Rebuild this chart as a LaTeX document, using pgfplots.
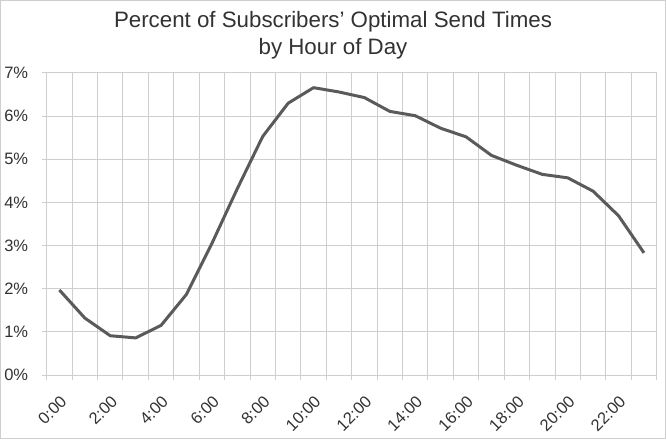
\documentclass[border=0pt]{standalone}
\usepackage{fontspec}
\setmainfont{Liberation Sans}
\usepackage{pgfplots}
\pgfplotsset{compat=1.18}
\definecolor{gridgray}{RGB}{206,206,206}
\definecolor{linegray}{RGB}{90,90,90}
\definecolor{textgray}{RGB}{50,50,50}

\begin{document}
\begin{tikzpicture}
\begin{axis}[
  scale only axis,
  width=610pt, height=302pt,
  xmin=-0.5, xmax=23.5,
  ymin=0, ymax=7,
  xtick={0,2,...,22},
  xticklabels={0:00,2:00,4:00,6:00,8:00,10:00,12:00,14:00,16:00,18:00,20:00,22:00},
  minor xtick={-0.5,0.5,...,23.5},
  ytick={0,1,...,7},
  yticklabel={\pgfmathprintnumber{\tick}\%},
  /pgf/number format/assume math mode=true,
  xminorgrids=true, ymajorgrids=true,
  grid style={gridgray, line width=1pt},
  minor grid style={gridgray, line width=1pt},
  axis line style={gridgray, line width=1pt},
  tick align=outside, tick pos=left,
  major tick length=5pt, minor tick length=5pt,
  tick style={gridgray, line width=1pt},
  every major x tick/.append style={draw=none},
  ticklabel style={font=\fontsize{16.5}{20}\selectfont, text=textgray},
  x tick label style={rotate=45, anchor=north east, inner sep=1pt},
  xticklabel shift=13pt,
  yticklabel shift=10pt,
]
\addplot[linegray, line width=3pt, line join=round] coordinates {
  (0,1.97) (1,1.32) (2,0.91) (3,0.86) (4,1.15) (5,1.87)
  (6,3.05) (7,4.32) (8,5.53) (9,6.30) (10,6.66) (11,6.56)
  (12,6.43) (13,6.11) (14,6.01) (15,5.72) (16,5.52) (17,5.09)
  (18,4.86) (19,4.65) (20,4.57) (21,4.26) (22,3.69) (23,2.83)
};
\end{axis}
\node[anchor=base, text=textgray, font=\fontsize{22.3}{26}\selectfont] at (286.3pt,347pt) {Percent of Subscribers' Optimal Send Times};
\node[anchor=base, text=textgray, font=\fontsize{22.3}{26}\selectfont] at (286.3pt,320pt) {by Hour of Day};
\draw[gridgray, line width=1pt] (-46.2pt,-63.5pt) rectangle (618.8pt,374.5pt);
\end{tikzpicture}
\end{document}
